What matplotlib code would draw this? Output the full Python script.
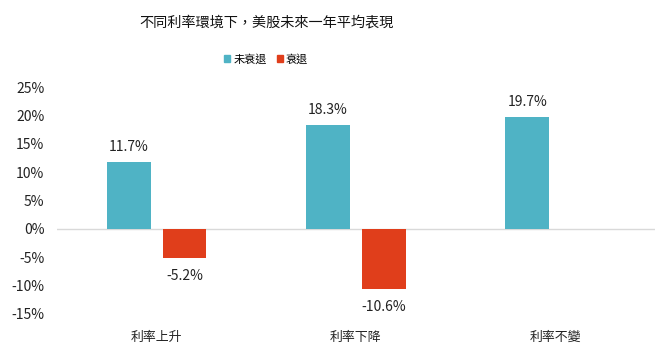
import numpy as np
import matplotlib
matplotlib.use('Agg')
import matplotlib.pyplot as plt
from matplotlib.patches import Patch

plt.rcParams['font.family'] = ['Noto Sans CJK TC', 'DejaVu Sans']

# 資料
categories = ['利率上升', '利率下降', '利率不變']
no_recession = [11.7, 18.3, 19.7]
recession = [-5.2, -10.6, np.nan]
series_names = ['未衰退', '衰退']
yticks = [-15, -10, -5, 0, 5, 10, 15, 20, 25]

teal = '#4FB3C5'
red = '#E03E1B'

fig = plt.figure(figsize=(6.62, 3.62), dpi=100)
ax = fig.add_axes([0.086, 0.1326, 0.903, 0.627])

x = np.arange(len(categories))
w = 0.22
ax.bar(x - 0.14, no_recession, width=w, color=teal)
ax.bar(x + 0.14, recession, width=w, color=red)

# 數據標籤
for xi, v in zip(x - 0.14, no_recession):
    ax.annotate(f'{v:.1f}%', (xi, v), xytext=(0, 11), textcoords='offset points',
                ha='center', va='center', fontsize=10, color='#222222')
for xi, v in zip(x + 0.14, recession):
    if np.isnan(v):
        continue
    ax.annotate(f'{v:.1f}%', (xi, v), xytext=(0, -13), textcoords='offset points',
                ha='center', va='center', fontsize=10, color='#222222')

ax.axhline(0, color='#D9D9D9', lw=1, zorder=0)
ax.set_xlim(-0.5, 2.5)
ax.set_ylim(-15, 25)
ax.set_yticks(yticks)
ax.set_yticklabels([f'{t}%' for t in yticks], fontsize=10, color='#222222')
ax.set_xticks(x)
ax.set_xticklabels(categories, fontsize=9.3, color='#222222')
ax.tick_params(axis='both', length=0)
ax.tick_params(axis='x', pad=12)
ax.tick_params(axis='y', pad=9)
for s in ax.spines.values():
    s.set_visible(False)

fig.text(266 / 662, 1 - 22 / 362, '不同利率環境下，美股未來一年平均表現',
         ha='center', va='center', fontsize=10.2, color='#111111')

handles = [Patch(color=teal), Patch(color=red)]
fig.legend(handles, series_names, loc='center', bbox_to_anchor=(266 / 662, 1 - 59 / 362),
           ncol=2, frameon=False, fontsize=8, handlelength=0.6, handleheight=0.7,
           handletextpad=0.25, columnspacing=0.9)

plt.savefig('out.png', dpi=100)
